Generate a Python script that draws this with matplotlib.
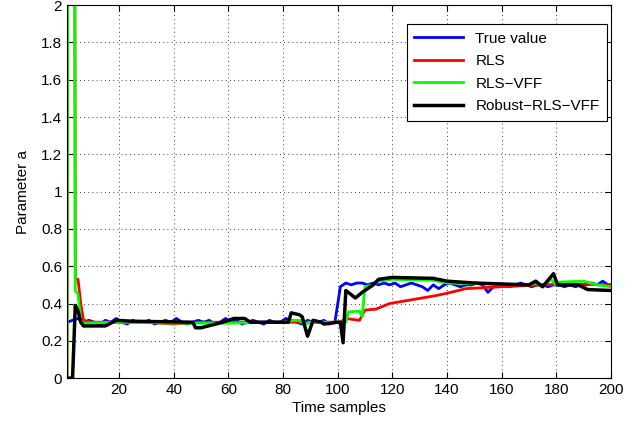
import numpy as np
import matplotlib
matplotlib.use('Agg')
import matplotlib.pyplot as plt

plt.rcParams['font.family'] = ['Liberation Sans', 'DejaVu Sans']

# True value, every second sample
true_t = np.concatenate((np.arange(1, 200, 2), [200]))
true_v = [
    0.30, 0.31, 0.32, 0.30, 0.31, 0.30, 0.29, 0.31, 0.30, 0.32,
    0.30, 0.29, 0.31, 0.30, 0.30, 0.31, 0.29, 0.30, 0.31, 0.30,
    0.32, 0.30, 0.29, 0.30, 0.31, 0.30, 0.31, 0.29, 0.30, 0.32,
    0.30, 0.31, 0.29, 0.30, 0.31, 0.30, 0.29, 0.31, 0.30, 0.30,
    0.32, 0.31, 0.30, 0.29, 0.31, 0.30, 0.30, 0.31, 0.29, 0.30,
    0.49, 0.51, 0.50, 0.51, 0.51, 0.50, 0.51, 0.50, 0.51, 0.50,
    0.51, 0.49, 0.50, 0.51, 0.50, 0.49, 0.47, 0.50, 0.48, 0.50,
    0.51, 0.50, 0.49, 0.50, 0.50, 0.51, 0.50, 0.46, 0.49, 0.50,
    0.50, 0.49, 0.50, 0.51, 0.50, 0.49, 0.50, 0.50, 0.49, 0.50,
    0.50, 0.49, 0.50, 0.49, 0.50, 0.50, 0.51, 0.50, 0.52, 0.50,
    0.50,
]

# RLS
rls_t = [1, 2, 3, 4, 5, 6, 7, 10, 20, 30, 40, 50, 60, 70, 80, 90, 100, 101,
         103, 108, 110, 114, 119, 127, 135, 140, 147, 160, 175, 185, 200]
rls_v = [0, 10, 10, 0.53, 0.53, 0.40, 0.31, 0.30, 0.30, 0.30, 0.29, 0.30,
         0.30, 0.30, 0.30, 0.30, 0.30, 0.30, 0.32, 0.31, 0.365, 0.37, 0.40,
         0.42, 0.44, 0.455, 0.48, 0.49, 0.50, 0.505, 0.50]

# RLS-VFF
vff_t = [1, 2, 3, 4, 5, 6, 7, 20, 40, 60, 80, 84, 86, 88, 90, 100, 101, 103,
         104, 108, 109, 110, 113, 115, 120, 135, 140, 170, 173, 175, 178, 180,
         181, 190, 195, 200]
vff_v = [0, 10, 10, 0.47, 0.45, 0.31, 0.295, 0.30, 0.295, 0.295, 0.30, 0.31,
         0.31, 0.29, 0.30, 0.30, 0.30, 0.30, 0.355, 0.36, 0.33, 0.49, 0.50,
         0.52, 0.53, 0.525, 0.51, 0.50, 0.51, 0.49, 0.53, 0.50, 0.515, 0.52,
         0.50, 0.49]

# Robust-RLS-VFF
rob_t = [1, 2, 3, 4, 5, 6, 7, 15, 19, 25, 47, 48, 50, 58, 62, 66, 68, 82, 83,
         86, 87, 89, 91, 94, 95, 100, 101, 102, 103, 106.5, 109, 113, 115, 120,
         135, 140, 150, 170, 172.5, 175, 179, 180.5, 188, 191.5, 200]
rob_v = [0, 0, 0, 0.39, 0.36, 0.30, 0.28, 0.28, 0.31, 0.305, 0.30, 0.27, 0.27,
         0.30, 0.32, 0.32, 0.30, 0.30, 0.35, 0.34, 0.33, 0.225, 0.31, 0.30,
         0.29, 0.30, 0.30, 0.19, 0.47, 0.43, 0.46, 0.50, 0.53, 0.54, 0.535,
         0.52, 0.51, 0.50, 0.52, 0.49, 0.56, 0.50, 0.50, 0.475, 0.47]

x_ticks = np.arange(20, 201, 20)
y_ticks = np.arange(0, 2.01, 0.2)
y_labels = ['0', '0.2', '0.4', '0.6', '0.8', '1', '1.2', '1.4', '1.6', '1.8', '2']

fig = plt.figure(figsize=(6.39, 4.23), dpi=100)
ax = fig.add_axes([0.105, 0.106, 0.851, 0.882])

ax.plot(true_t, true_v, color='#0000ff', lw=2, label='True value')
ax.plot(rls_t, rls_v, color='#ff0000', lw=2, label='RLS')
ax.plot(vff_t, vff_v, color='#00ff00', lw=2, label='RLS\u2212VFF')
ax.plot(rob_t, rob_v, color='black', lw=2.5, label='Robust\u2212RLS\u2212VFF')

ax.set_xlim(1, 200)
ax.set_ylim(0, 2)
ax.set_xticks(x_ticks)
ax.set_yticks(y_ticks)
ax.set_yticklabels(y_labels)
ax.tick_params(direction='in', top=True, right=True, labelsize=11, length=4)
ax.grid(True, linestyle=(0, (1, 4)), color='black', lw=0.6)
for s in ax.spines.values():
    s.set_linewidth(0.8)

ax.set_xlabel('Time samples', fontsize=11, labelpad=3)
ax.set_ylabel('Parameter a', fontsize=11, labelpad=8)

leg = ax.legend(loc='upper right', fontsize=11, fancybox=False, framealpha=1,
                edgecolor='black', borderpad=0.5, handlelength=3.2,
                labelspacing=0.55, borderaxespad=0,
                bbox_to_anchor=(0.993, 0.949))
leg.get_frame().set_linewidth(0.8)

fig.savefig('out.png', dpi=100)
